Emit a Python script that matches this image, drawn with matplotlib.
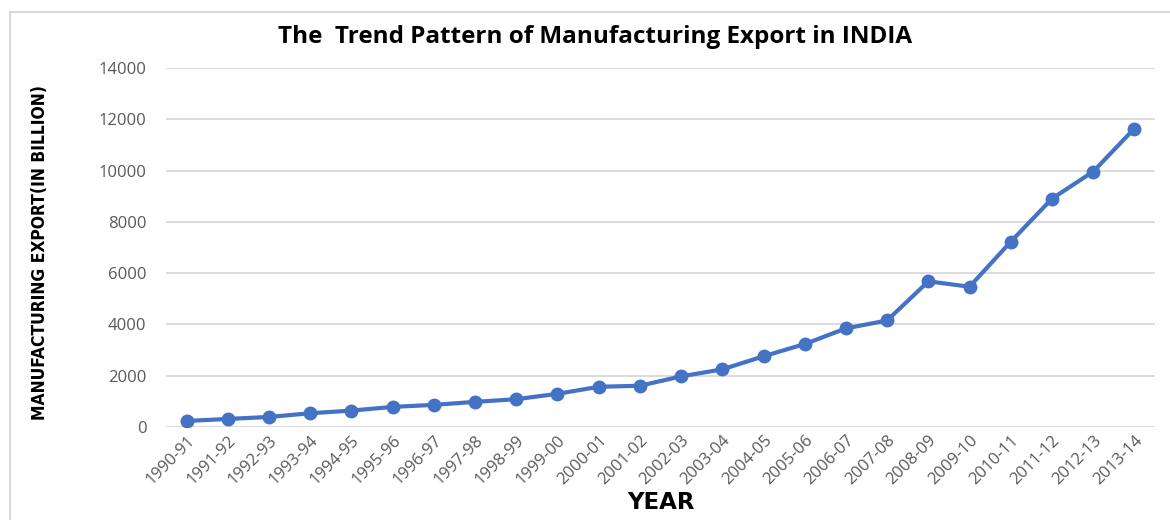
import matplotlib.pyplot as plt
from matplotlib.patches import Rectangle

# Manufacturing exports of India by financial year (in billion)
years = ['1990-91', '1991-92', '1992-93', '1993-94', '1994-95', '1995-96',
         '1996-97', '1997-98', '1998-99', '1999-00', '2000-01', '2001-02',
         '2002-03', '2003-04', '2004-05', '2005-06', '2006-07', '2007-08',
         '2008-09', '2009-10', '2010-11', '2011-12', '2012-13', '2013-14']
exports = [235, 314, 392, 536, 640, 784, 863, 980, 1085, 1294, 1569, 1608,
           1974, 2248, 2758, 3235, 3845, 4155, 5680, 5470, 7225, 8905, 9960, 11640]
y_ticks = [0, 2000, 4000, 6000, 8000, 10000, 12000, 14000]

fig = plt.figure(figsize=(11.7, 5.2), dpi=100)
ax = fig.add_axes([166 / 1170, 1 - 427 / 520, 989 / 1170, 359 / 520])

x = list(range(len(years)))
ax.plot(x, exports, color='#4472C4', linewidth=3, marker='o', markersize=9,
        solid_capstyle='round', zorder=3)

ax.set_xlim(-0.5, len(years) - 0.5)
ax.set_ylim(0, 14000)
ax.set_yticks(y_ticks)
ax.set_yticklabels([str(v) for v in y_ticks], fontsize=12, color='#595959',
                   family='Open Sans')
ax.set_xticks(x)
ax.set_xticklabels(years, rotation=45, ha='right', va='top', rotation_mode='anchor',
                   fontsize=12, color='#595959', family='Open Sans')
ax.tick_params(axis='both', length=0)
ax.tick_params(axis='y', pad=14)
ax.tick_params(axis='x', pad=4)

ax.grid(axis='y', color='#D9D9D9', linewidth=1.3)
ax.set_axisbelow(True)
for side in ['top', 'right', 'left', 'bottom']:
    ax.spines[side].set_visible(False)

ax.set_xlabel('YEAR', fontsize=16.5, fontweight='bold', family='DejaVu Sans',
              labelpad=2)
fig.text(40 / 1170, 1 - 252 / 520, 'MANUFACTURING EXPORT(IN BILLION)',
         rotation=90, ha='center', va='center', fontsize=12.5, fontweight='bold',
         fontstretch='condensed', family='DejaVu Sans')
fig.text(595 / 1170, 1 - 37 / 520, 'The  Trend Pattern of Manufacturing Export in INDIA',
         ha='center', va='center', fontsize=17.5, fontweight='bold', family='Open Sans')

# chart frame
fig.patches.append(Rectangle((10 / 1170, -0.05), 1.1, 1 - 12 / 520 + 0.05,
                             transform=fig.transFigure, fill=False,
                             edgecolor='#D9D9D9', linewidth=1.5))

fig.savefig('out.png', dpi=100)
